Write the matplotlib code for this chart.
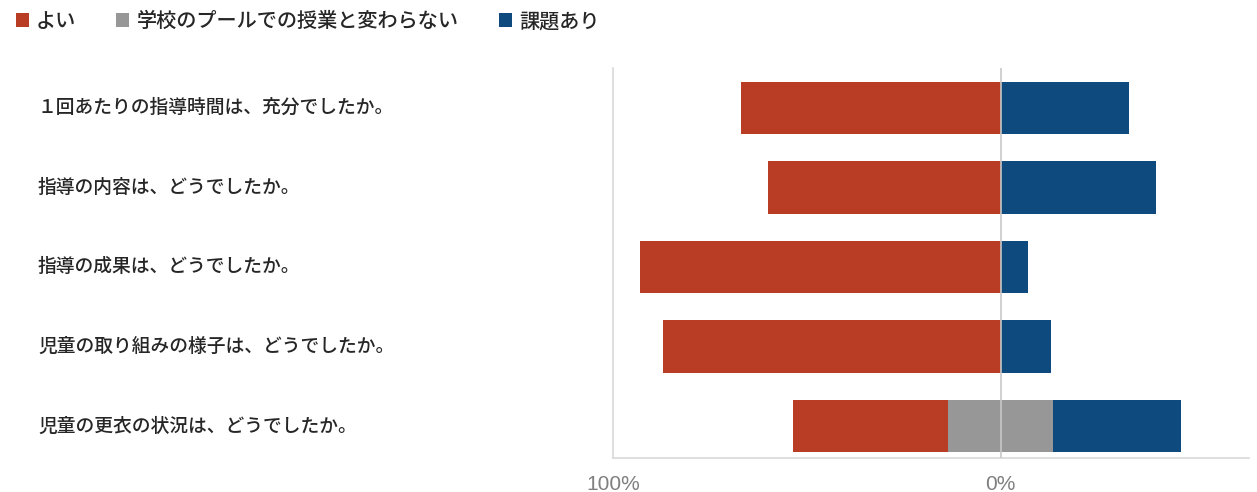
import matplotlib
matplotlib.use("Agg")
import matplotlib.pyplot as plt
import matplotlib.transforms as mtransforms
import numpy as np

plt.rcParams['font.family'] = ['Noto Sans CJK JP', 'DejaVu Sans']

questions = [
    "１回あたりの指導時間は、充分でしたか。",
    "指導の内容は、どうでしたか。",
    "指導の成果は、どうでしたか。",
    "児童の取り組みの様子は、どうでしたか。",
    "児童の更衣の状況は、どうでしたか。",
]
series_names = ["よい", "学校のプールでの授業と変わらない", "課題あり"]
good = [67, 60, 93, 87, 40]
same = [0, 0, 0, 0, 27]
issue = [33, 40, 7, 13, 33]
tick_values = [-100, 0]
tick_labels = ["100%", "0%"]

c_good = "#B93C24"
c_same = "#979797"
c_issue = "#0E4A7E"

fig = plt.figure(figsize=(12.57, 4.92), dpi=100)
ax = fig.add_axes([613/1257, 1 - 458/492, (1249-613)/1257, (458-68)/492])

y = np.arange(len(questions))
good_a = np.array(good, float)
same_a = np.array(same, float)
issue_a = np.array(issue, float)
h = 0.66
ax.barh(y, good_a, left=-(good_a + same_a/2), height=h, color=c_good, label=series_names[0])
ax.barh(y, same_a, left=-same_a/2, height=h, color=c_same, label=series_names[1])
ax.barh(y, issue_a, left=same_a/2, height=h, color=c_issue, label=series_names[2])

ax.axvline(0, color="#c8c8c8", lw=1.2, zorder=3)
ax.set_xlim(-100, 64)
ax.set_ylim(4.4, -0.5)
ax.set_yticks([])
ax.set_xticks(tick_values)
ax.set_xticklabels(tick_labels, color="#7f7f7f", fontsize=15, family=['Liberation Sans', 'DejaVu Sans'])
ax.tick_params(axis='x', length=0, pad=12)
for s in ['top', 'right']:
    ax.spines[s].set_visible(False)
for s in ['left', 'bottom']:
    ax.spines[s].set_color("#d9d9d9")
    ax.spines[s].set_linewidth(1.2)

trans = mtransforms.blended_transform_factory(fig.transFigure, ax.transData)
for yi, q in zip(y, questions):
    ax.text(38/1257, yi, q, transform=trans, ha='left', va='center',
            fontsize=13.5, color="#262626", fontweight='medium', clip_on=False)

fig.legend(loc='upper left', bbox_to_anchor=(-0.002, 1.013), ncol=3, frameon=False,
           handlelength=0.65, handleheight=0.65, handletextpad=0.35,
           columnspacing=2.0, labelcolor="#262626",
           prop={'size': 14.5, 'weight': 'medium'})

fig.savefig("out.png", dpi=100, facecolor="white")
